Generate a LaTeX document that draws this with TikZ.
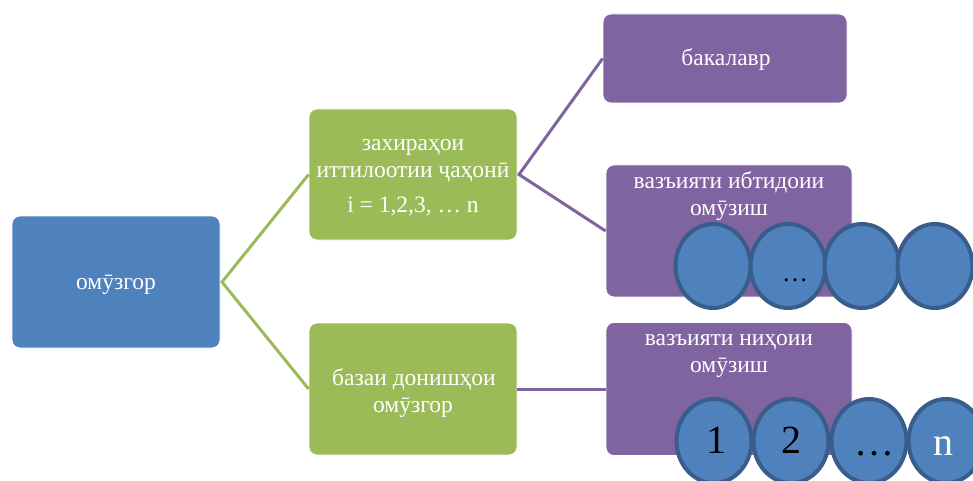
\documentclass[tikz,border=0pt]{standalone}
\usepackage{fontspec}
\usetikzlibrary{shapes.geometric}
\setmainfont{Liberation Serif}
\definecolor{cblue}{HTML}{4F81BD}
\definecolor{cblueb}{HTML}{385D8A}
\definecolor{cgreen}{HTML}{9BBB59}
\definecolor{cpurple}{HTML}{8064A2}
\begin{document}
\begin{tikzpicture}[x=1pt,y=-1pt,
  box/.style={draw=white,line width=0.8pt,rounded corners=8pt,inner sep=0pt},
  bluebox/.style={box,fill=cblue},
  greenbox/.style={box,fill=cgreen},
  purplebox/.style={box,fill=cpurple},
  lbl/.style={anchor=base,text=white,inner sep=0pt,font=\fontsize{23.5}{27}\selectfont},
  disc/.style={ellipse,draw=cblueb,fill=cblue,line width=4pt,minimum width=75pt,minimum height=84pt,inner sep=0pt},
  num/.style={anchor=base,inner sep=0pt,font=\fontsize{40}{40}\selectfont},
  glink/.style={cgreen,line width=3pt},
  plink/.style={cpurple,line width=3pt}]
\useasboundingbox (0,0) rectangle (973,481);
\clip (0,0) rectangle (973,481);
% boxes
\node[bluebox,minimum width=208pt,minimum height=132pt] (root) at (116,282) {};
\node[lbl] (roott) at (116,289) {омӯзгор};
\node[greenbox,minimum width=208pt,minimum height=131pt] (g1) at (413,174.5) {};
\node[lbl] (g1a) at (413,150) {захираҳои};
\node[lbl] (g1b) at (413,177) {иттилоотии ҷаҳонӣ};
\node[lbl] (g1c) at (413,212) {i = 1,2,3, … n};
\node[greenbox,minimum width=208pt,minimum height=132pt] (g2) at (413,389) {};
\node[lbl] (g2a) at (414,385) {базаи донишҳои};
\node[lbl] (g2b) at (413,412) {омӯзгор};
\node[purplebox,minimum width=244pt,minimum height=89pt] (p1) at (725,58.5) {};
\node[lbl] (p1t) at (726,66) {бакалавр};
\node[purplebox,minimum width=246pt,minimum height=132pt] (p2) at (729,231) {};
\node[lbl] (p2a) at (729,188) {вазъияти ибтидоии};
\node[lbl] (p2b) at (729,215) {омӯзиш};
\node[purplebox,minimum width=246pt,minimum height=133pt] (p3) at (729,389) {};
\node[lbl] (p3a) at (729,345) {вазъияти ниҳоии};
\node[lbl] (p3b) at (729,372) {омӯзиш};
% connectors
\coordinate (rj) at (222,282);
\coordinate (gj) at (519,174.5);
\draw[glink] (g1.west) -- (rj) -- (g2.west);
\draw[plink] (p1.west) -- (gj) -- (p2.west);
\draw[plink] (g2.east) -- (p3.west);
% top discs
\node[disc] (a1) at (713,266) {};
\node[disc] (a2) at (788,266) {};
\node[disc] (a3) at (862,266) {};
\node[disc] (a4) at (935,266) {};
\node[anchor=base,inner sep=0pt,font=\fontsize{26}{26}\selectfont] (a2t) at (795,281) {…};
% bottom discs
\node[disc] (b1) at (714,441) {};
\node[disc] (b2) at (791,441) {};
\node[disc] (b3) at (869,441) {};
\node[disc] (b4) at (946,441) {};
\node[num] (b1t) at (716,453) {1};
\node[num] (b2t) at (791,453) {2};
\node[num] (b3t) at (874,455) {…};
\node[num,text=white] (b4t) at (943,455) {n};
\end{tikzpicture}
\end{document}
